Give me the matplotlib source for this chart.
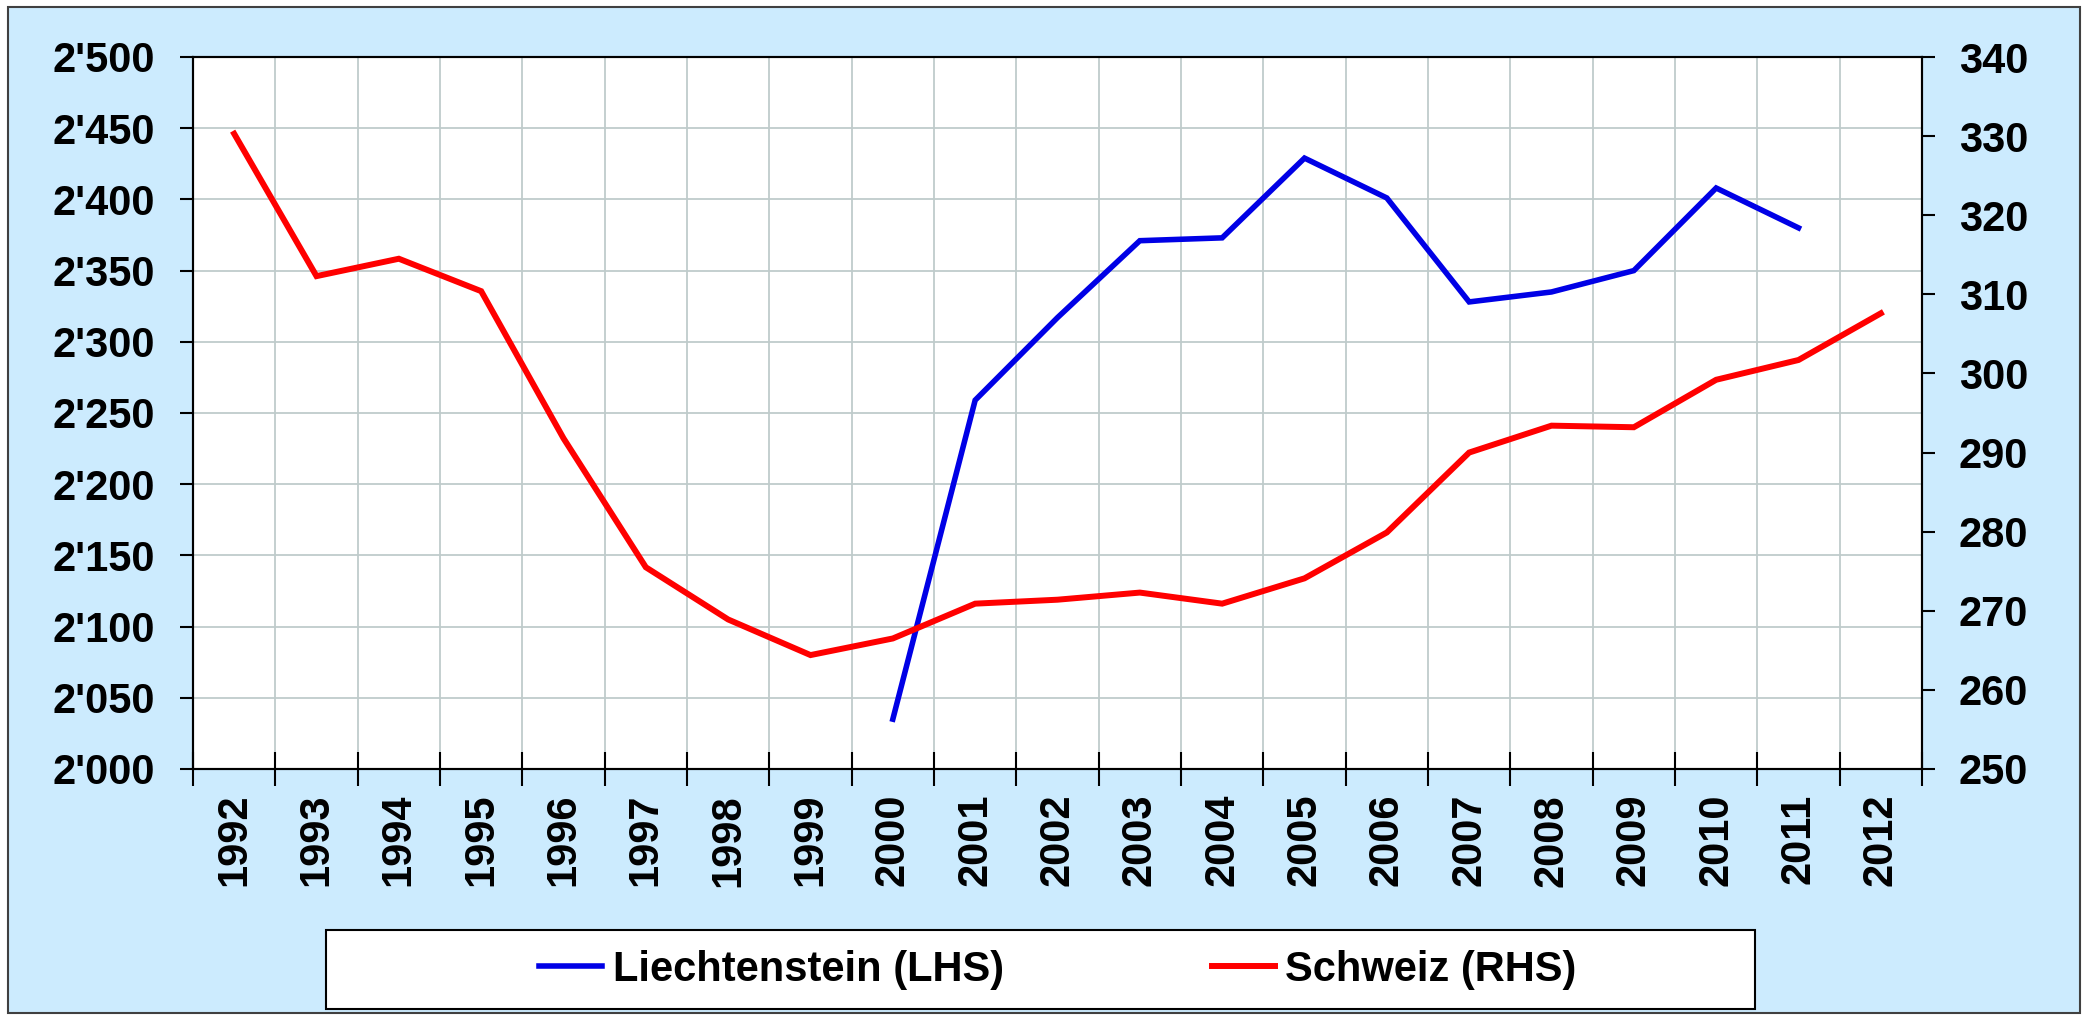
import matplotlib.pyplot as plt
from matplotlib.patches import Rectangle
from matplotlib.ticker import FuncFormatter, MultipleLocator, FixedLocator

years = [str(y) for y in range(1992, 2013)]

# Liechtenstein (LHS), no data before 2000 and for 2012
liechtenstein = [None] * 8 + [2035, 2259, 2317, 2371, 2373, 2429, 2401, 2328,
                              2335, 2350, 2408, 2380, None]
# Schweiz (RHS)
schweiz = [330.3, 312.3, 314.5, 310.4, 291.8, 275.5, 268.9, 264.4, 266.5, 270.9,
           271.4, 272.3, 270.9, 274.1, 279.9, 290.0, 293.4, 293.2, 299.2, 301.7,
           307.6]

BG = "#CCEBFE"
GRID = "#BFCBCB"
FONT = "Liberation Sans"


def apostrophe(v, pos):
    return f"{v:,.0f}".replace(",", "'")


def plot_chart():
    fig = plt.figure(figsize=(20.83, 10.18), dpi=100)
    fig.patch.set_facecolor("white")
    fig.patches.append(Rectangle((8 / 2083, 5 / 1018), 2072 / 2083, 1006 / 1018,
                                 transform=fig.transFigure, facecolor=BG,
                                 edgecolor="#404040", linewidth=1.5, zorder=-10))

    ax = fig.add_axes([193 / 2083, 1 - 769 / 1018, 1729 / 2083, 712 / 1018])
    ax.set_facecolor("white")
    ax2 = ax.twinx()

    x = list(range(len(years)))
    xl = [i for i, v in zip(x, liechtenstein) if v is not None]
    yl = [v for v in liechtenstein if v is not None]
    l1, = ax.plot(xl, yl, color="#0000E6", lw=4, solid_joinstyle="miter", zorder=3)
    l2, = ax2.plot(x, schweiz, color="#FF0000", lw=4.3, solid_joinstyle="miter")

    ax.set_xlim(-0.5, len(years) - 0.5)
    ax.set_ylim(2000, 2500)
    ax2.set_ylim(250, 340)
    ax.yaxis.set_major_locator(MultipleLocator(50))
    ax2.yaxis.set_major_locator(MultipleLocator(10))
    ax.yaxis.set_major_formatter(FuncFormatter(apostrophe))

    # category boundaries carry the ticks and the grid, labels sit in the middle
    ax.xaxis.set_major_locator(FixedLocator([i - 0.5 for i in range(len(years) + 1)]))
    ax.xaxis.set_minor_locator(FixedLocator(x))
    ax.set_xticklabels([], minor=False)
    ax.set_xticklabels(years, minor=True, rotation=90)
    ax.tick_params(axis="x", which="major", direction="inout", length=25, width=1.5)
    ax.tick_params(axis="x", which="minor", length=0, pad=18)

    ax.tick_params(axis="y", direction="out", length=9.5, width=1.5, pad=18)
    ax2.tick_params(axis="y", direction="out", length=9.5, width=1.5, pad=17)

    for a in (ax, ax2):
        for lab in a.get_xticklabels(minor=True) + a.get_yticklabels():
            lab.set_fontfamily(FONT)
            lab.set_fontweight("bold")
            lab.set_fontsize(30)
        for s in a.spines.values():
            s.set_linewidth(1.5)
            s.set_color("black")

    ax.grid(True, which="major", color=GRID, lw=1.3)
    ax.set_axisbelow(True)

    # legend frame spans wider than the entries
    fig.patches.append(Rectangle((326 / 2083, 1 - 1009 / 1018), 1429 / 2083, 79 / 1018,
                                 transform=fig.transFigure, facecolor="white",
                                 edgecolor="black", linewidth=1.5, zorder=-5))
    fig.legend([l1, l2], ["Liechtenstein (LHS)", "Schweiz (RHS)"], loc="center",
               bbox_to_anchor=(1058 / 2083, 1 - 970 / 1018), ncol=2, frameon=False,
               handlelength=1.5, handletextpad=0.26, columnspacing=5.0,
               prop={"family": FONT, "weight": "bold", "size": 30})

    fig.savefig("out.png", dpi=100)


if __name__ == "__main__":
    plot_chart()
